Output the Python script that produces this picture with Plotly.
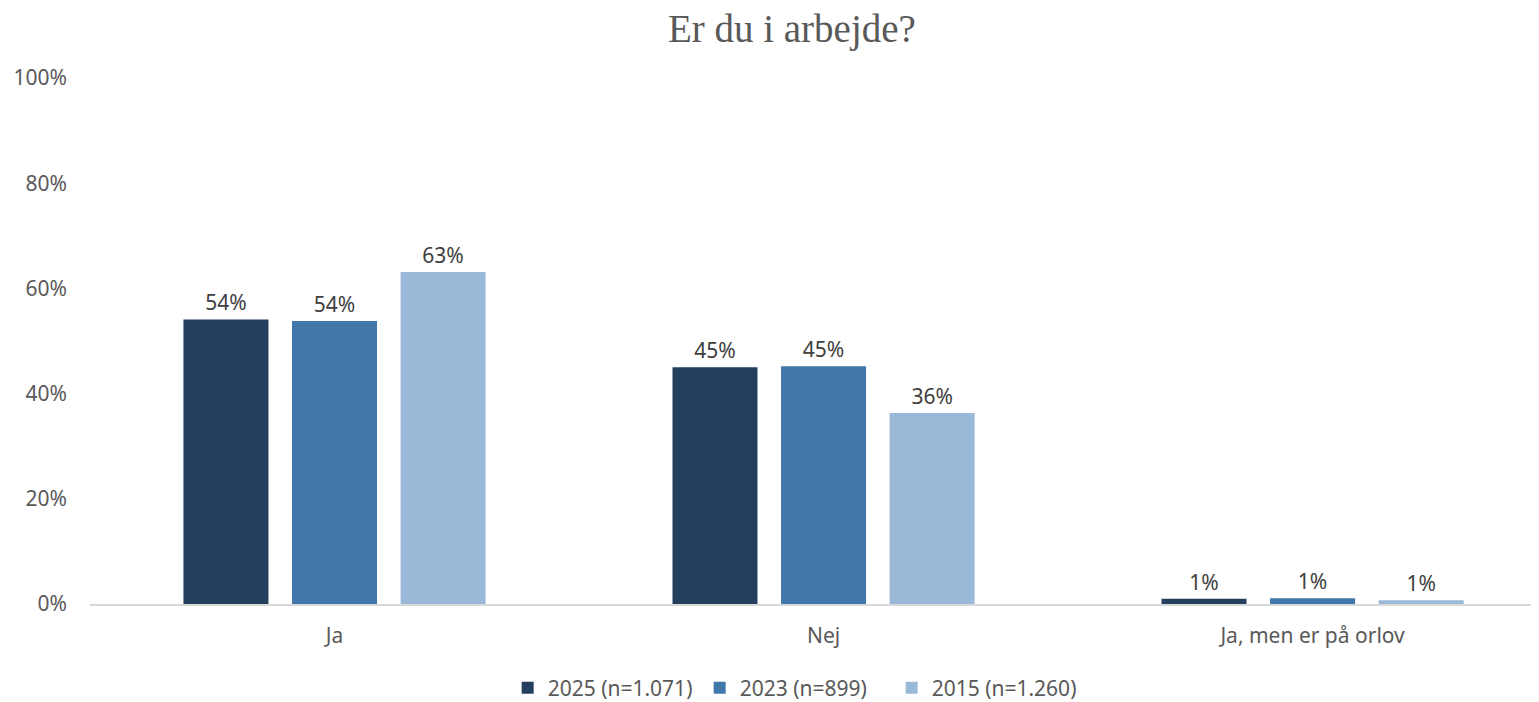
import plotly.graph_objects as go

categories = ["Ja", "Nej", "Ja, men er på orlov"]
series_names = ["2025 (n=1.071)", "2023 (n=899)", "2015 (n=1.260)"]
values_2025 = [54.1, 45.0, 1.0]
values_2023 = [53.8, 45.2, 1.1]
values_2015 = [63.1, 36.3, 0.7]
colors = ["#243F5E", "#4277AA", "#9AB8D7"]
y_ticks = [0, 20, 40, 60, 80, 100]
y_tick_labels = ["0%", "20%", "40%", "60%", "80%", "100%"]

font_main = "'Noto Sans', 'Open Sans', sans-serif"

fig = go.Figure()
for name, vals, col in zip(series_names, [values_2025, values_2023, values_2015], colors):
    fig.add_trace(go.Bar(
        x=categories, y=vals, name=name, marker_color=col, marker_line_width=0,
        text=[f"{round(v):.0f}%" for v in vals], textposition="outside",
        textfont=dict(size=21, color="#404040", family=font_main),
        cliponaxis=False,
    ))

# page body has an 8px margin, so the figure is sized/positioned to compensate
fig.update_layout(
    width=1531, height=694,
    margin=dict(l=82, r=0, t=70, b=98, autoexpand=False),
    paper_bgcolor="white", plot_bgcolor="white",
    barmode="group", bargap=0.334, bargroupgap=0.217,
    title=dict(text="Er du i arbejde?", x=0.512, xanchor="center", y=0.971, yanchor="middle",
               font=dict(family="'Liberation Serif', serif", size=39, color="#595959")),
    font=dict(family=font_main, color="#595959"),
    showlegend=True,
    legend=dict(orientation="h", x=0.487, xanchor="center", y=-0.16, yanchor="middle",
                font=dict(size=21, color="#595959", family=font_main), traceorder="normal",
                itemwidth=30, entrywidth=147, entrywidthmode="pixels"),
)
fig.update_xaxes(range=[-0.5, 2.463], showline=True, linecolor="#D9D9D9", linewidth=1.5,
                 ticks="", tickfont=dict(size=21, color="#595959"), showgrid=False,
                 ticklabelstandoff=12)
fig.update_yaxes(range=[0, 100], tickvals=y_ticks, ticktext=y_tick_labels, showgrid=False,
                 zeroline=False, showline=False, tickfont=dict(size=21, color="#595959"),
                 ticklabelstandoff=22)

fig.write_html("out.html")
